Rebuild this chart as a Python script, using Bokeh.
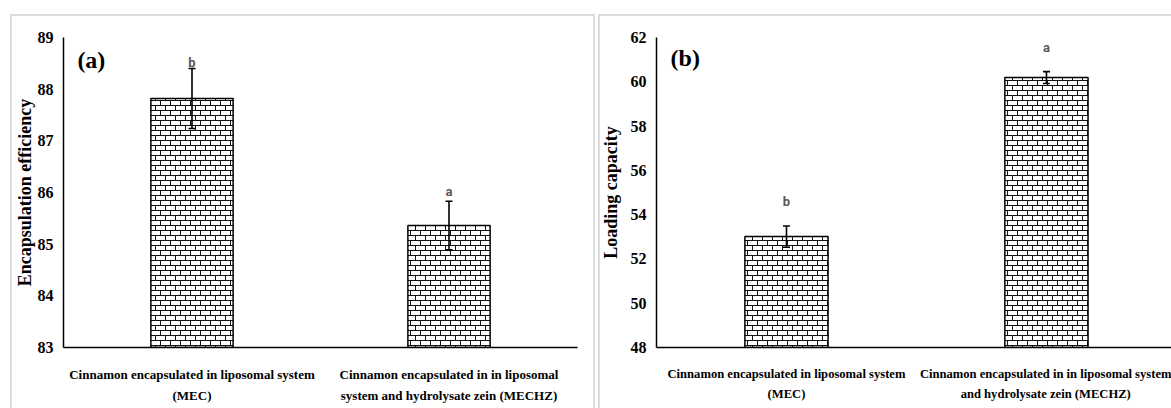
import base64, zlib, struct
from bokeh.plotting import figure
from bokeh.models import (Range1d, FixedTicker, Whisker, ColumnDataSource, Label,
                          TeeHead, ImageURLTexture)
from bokeh.layouts import row
from bokeh.embed import file_html
from bokeh.resources import INLINE
from bokeh.core.properties import value

# ---------------- data ----------------
x_pos = [0.5, 1.5]

labels_a = ["Cinnamon encapsulated in liposomal system\n(MEC)",
            "Cinnamon encapsulated in in liposomal\nsystem and hydrolysate zein (MECHZ)"]
labels_b = ["Cinnamon encapsulated in liposomal system\n(MEC)",
            "Cinnamon encapsulated in in liposomal system\nand hydrolysate zein (MECHZ)"]

enc_eff = [87.82, 85.36]
enc_err = [0.58, 0.47]
enc_sig = ["b", "a"]
enc_sig_y = [88.52, 86.02]
enc_ticks = [83, 84, 85, 86, 87, 88, 89]

load_cap = [53.01, 60.19]
load_err = [0.48, 0.27]
load_sig = ["b", "a"]
load_sig_y = [54.59, 61.55]
load_ticks = [48, 50, 52, 54, 56, 58, 60, 62]


# ---------------- brick texture (10x10 PNG tile) ----------------
def brick_png():
    size = 10
    rows = b""
    for yy in range(size):
        line = b"\x00"
        for xx in range(size):
            dark = (yy in (0, 5)) or (yy < 5 and xx == 0) or (yy >= 5 and xx == 5)
            line += bytes((17, 17, 17)) if dark else bytes((255, 255, 255))
        rows += line

    def chunk(tag, data):
        c = struct.pack(">I", len(data)) + tag + data
        return c + struct.pack(">I", zlib.crc32(tag + data) & 0xffffffff)

    png = b"\x89PNG\r\n\x1a\n"
    png += chunk(b"IHDR", struct.pack(">IIBBBBB", size, size, 8, 2, 0, 0, 0))
    png += chunk(b"IDAT", zlib.compress(rows))
    png += chunk(b"IEND", b"")
    return "data:image/png;base64," + base64.b64encode(png).decode()


brick_url = brick_png()

SERIF = "Liberation Serif"
GRAY = "#dcdcdc"


def gline(pos, size):
    return f"linear-gradient({GRAY},{GRAY}) {pos} / {size} no-repeat"


def make_panel(width, xend, ystart, yend, ticks, vals, errs, sig, sig_y, labels,
               ylabel, tag, tag_y, label_size, ylabel_standoff, min_left, min_right,
               min_top, background):
    p = figure(width=width, height=408, output_backend="svg", toolbar_location=None,
               x_range=Range1d(0, xend), y_range=Range1d(ystart, yend),
               min_border_left=min_left, min_border_right=min_right,
               min_border_top=min_top, min_border_bottom=61,
               styles={"background": background})
    p.border_fill_color = None
    p.background_fill_color = None
    p.outline_line_color = None
    p.grid.visible = False

    src = ColumnDataSource(dict(x=x_pos, top=vals,
                                upper=[v + e for v, e in zip(vals, errs)],
                                lower=[v - e for v, e in zip(vals, errs)],
                                sig=sig, sig_y=sig_y))
    p.vbar(x="x", top="top", bottom=ystart, width=0.32, source=src,
           fill_color="white", line_color="black", line_width=1.5,
           hatch_pattern=value("brick"), hatch_alpha=1.0,
           hatch_extra={"brick": ImageURLTexture(url=brick_url, repetition="repeat")})
    w = Whisker(base="x", upper="upper", lower="lower", source=src,
                line_color="black", line_width=1.6, level="overlay",
                upper_head=TeeHead(size=7, line_width=1.6, line_color="black"),
                lower_head=TeeHead(size=7, line_width=1.6, line_color="black"))
    p.add_layout(w)
    p.text(x="x", y="sig_y", text="sig", source=src, text_align="center",
           text_baseline="middle", text_color="#595959", text_font=value("Roboto"),
           text_font_style="bold", text_font_size="13px")

    p.add_layout(Label(x=0.054, y=tag_y, text=tag, text_font=SERIF,
                       text_font_style="bold", text_font_size="24px",
                       text_color="black", text_align="left", text_baseline="middle"))

    p.yaxis.ticker = FixedTicker(ticks=ticks)
    p.xaxis.ticker = FixedTicker(ticks=x_pos)
    p.xaxis.major_label_overrides = {x_pos[0]: labels[0], x_pos[1]: labels[1]}

    for ax in (p.xaxis, p.yaxis):
        ax.axis_line_color = "black"
        ax.axis_line_width = 1.5
        ax.major_tick_line_color = None
        ax.minor_tick_line_color = None
        ax.major_tick_out = 0
        ax.major_tick_in = 0
        ax.major_label_text_font = SERIF
        ax.major_label_text_font_style = "bold"
        ax.major_label_text_color = "black"
    p.yaxis.major_label_text_font_size = "16px"
    p.yaxis.major_label_standoff = 10
    p.xaxis.major_label_text_font_size = label_size
    p.xaxis.major_label_text_line_height = 1.45
    p.xaxis.major_label_standoff = 19

    p.yaxis.axis_label = ylabel
    p.yaxis.axis_label_text_font = SERIF
    p.yaxis.axis_label_text_font_style = "bold"
    p.yaxis.axis_label_text_font_size = "18px"
    p.yaxis.axis_label_text_color = "black"
    p.yaxis.axis_label_standoff = ylabel_standoff
    return p


bg_a = ", ".join([gline("10px 14px", "585px 2px"), gline("10px 14px", "2px 400px"),
                  gline("593px 14px", "2px 400px")])
bg_b = ", ".join([gline("1px 14px", "100% 2px"), gline("1px 14px", "2px 400px")])

pa = make_panel(597, 2.0, 83, 89, enc_ticks, enc_eff, enc_err, enc_sig, enc_sig_y,
                labels_a, "Encapsulation efficiency", "(a)", 88.555, "13px", 0,
                63, 20, 36, bg_a)
pb = make_panel(574, 1.981, 48, 62, load_ticks, load_cap, load_err, load_sig, load_sig_y,
                labels_b, "Loading capacity", "(b)", 61.07, "12.6px", 7,
                56, 0, 37, bg_b)

layout = row(pa, pb, spacing=0)
open("out.html", "w").write(file_html(layout, INLINE))
